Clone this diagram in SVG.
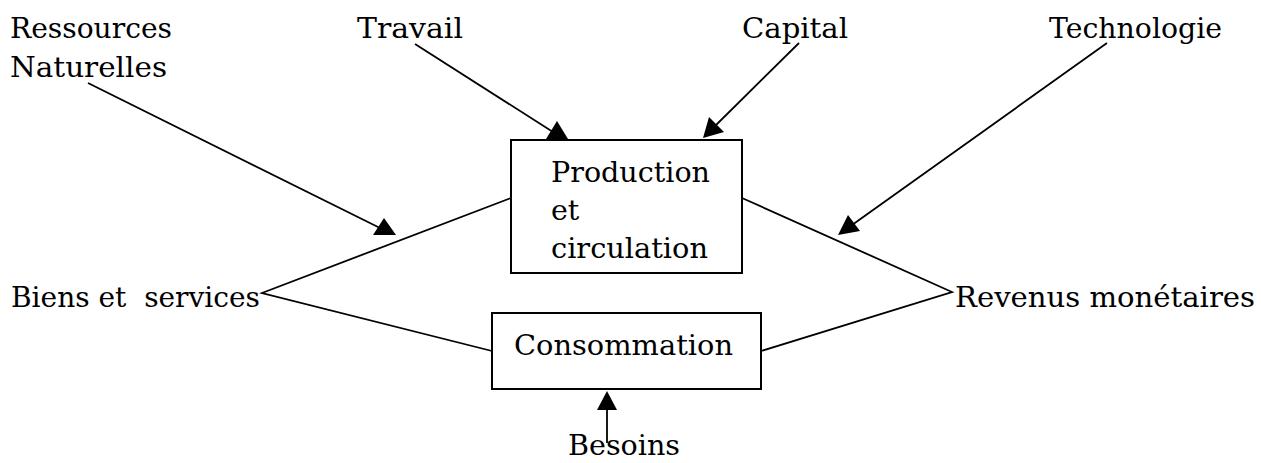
<svg xmlns="http://www.w3.org/2000/svg" width="1261" height="463" viewBox="0 0 1261 463">
<style>
text{font-family:"DejaVu Serif","Liberation Serif",serif;font-size:28.5px;fill:#000}
.box{fill:#fff;stroke:#000;stroke-width:2}
.ln{stroke:#000;stroke-width:1.8;fill:none}
.ah{fill:#000;stroke:none}
</style>
<rect width="1261" height="463" fill="#fff"/>
<g id="connectors">
<line class="ln" x1="88" y1="83" x2="380" y2="228"/>
<polygon class="ah" points="384,218 373,235 396,235"/>
<line class="ln" x1="415" y1="44" x2="553" y2="132"/>
<polygon class="ah" points="557,121 546,139 568,139"/>
<line class="ln" x1="799" y1="43" x2="712" y2="129"/>
<polygon class="ah" points="703,138 724,132 709,117"/>
<line class="ln" x1="1107" y1="43" x2="845" y2="230"/>
<polygon class="ah" points="838,235 860,231 848,215"/>
<line class="ln" x1="607" y1="443" x2="607" y2="405"/>
<polygon class="ah" points="607,391 597,410 617,410"/>
<polyline class="ln" points="511,198 262,293 492,351"/>
<polyline class="ln" points="742,198 952,292 761,351"/>
</g>
<g id="production">
<rect class="box" x="511" y="140" width="231" height="133"/>
<text x="551" y="182" textLength="159" lengthAdjust="spacingAndGlyphs">Production</text>
<text x="551" y="220">et</text>
<text x="551" y="258" textLength="157" lengthAdjust="spacingAndGlyphs">circulation</text>
</g>
<g id="consommation">
<rect class="box" x="492" y="313" width="269" height="76"/>
<text x="514" y="355" textLength="219" lengthAdjust="spacingAndGlyphs">Consommation</text>
</g>
<g id="ressources">
<text x="10" y="38" textLength="162" lengthAdjust="spacingAndGlyphs">Ressources</text>
<text x="10" y="77" textLength="157" lengthAdjust="spacingAndGlyphs">Naturelles</text>
</g>
<g id="travail"><text x="357" y="38" textLength="106" lengthAdjust="spacingAndGlyphs">Travail</text></g>
<g id="capital"><text x="742" y="38" textLength="106" lengthAdjust="spacingAndGlyphs">Capital</text></g>
<g id="technologie"><text x="1049" y="38" textLength="173" lengthAdjust="spacingAndGlyphs">Technologie</text></g>
<g id="biens"><text x="11" y="307" textLength="249" lengthAdjust="spacingAndGlyphs" xml:space="preserve">Biens et  services</text></g>
<g id="revenus"><text x="955" y="307" textLength="300" lengthAdjust="spacingAndGlyphs">Revenus monétaires</text></g>
<g id="besoins"><text x="568" y="455" textLength="112" lengthAdjust="spacingAndGlyphs">Besoins</text></g>
</svg>
